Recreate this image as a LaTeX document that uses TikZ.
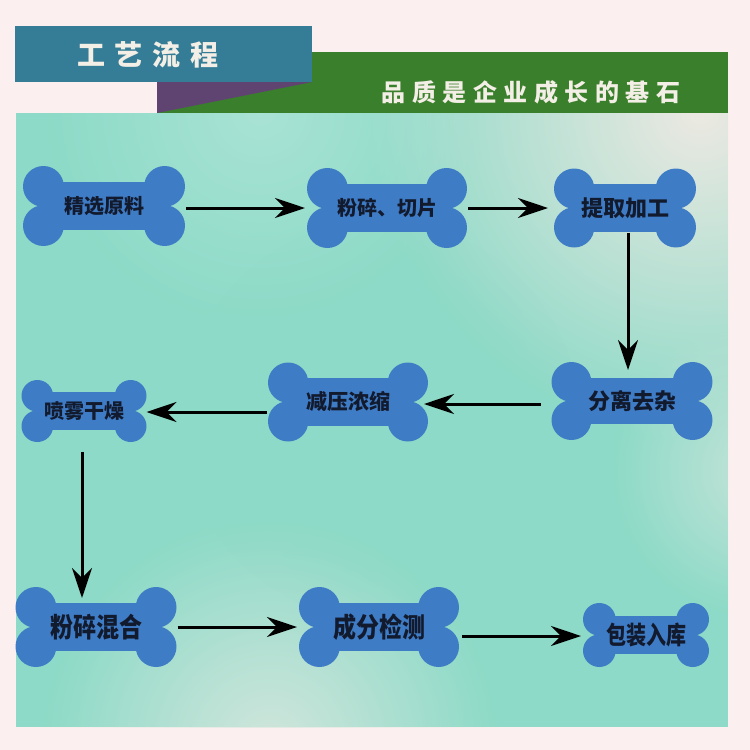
\documentclass[tikz,border=0pt]{standalone}
\usepackage{fontspec}
\usepackage{graphicx}
\newfontfamily\cjk{Noto Sans CJK SC}
\usetikzlibrary{arrows.meta,calc,fadings}
\definecolor{pagebg}{HTML}{FCEFEF}
\definecolor{bannerblue}{HTML}{357D96}
\definecolor{bannergreen}{HTML}{3A7F2B}
\definecolor{bannerpurple}{HTML}{5F4472}
\definecolor{bonecol}{HTML}{3F7CC6}
\definecolor{textcol}{HTML}{121A2E}
\definecolor{titlecol}{HTML}{F3EFE6}
\definecolor{panelbase}{HTML}{8CDAC7}
\definecolor{glowA}{HTML}{F2EAE4}
\definecolor{glowB}{HTML}{DDE8E0}
\tikzfading[name=softglow, inner color=transparent!0, outer color=transparent!100]
\newcommand\gapT{\hspace{10pt}}
\newcommand\gapS{\hspace{6.5pt}}
\newcommand\drawbone[6]{%
  \pgfmathsetmacro\bR{0.255*#5}%
  \pgfmathsetmacro\bO{0.245*#5}%
  \pgfmathsetmacro\bX{#4/2-\bR}%
  \pgfmathsetmacro\bB{0.30*#5}%
  \fill[bonecol] (#2-\bX,#3-\bB) rectangle (#2+\bX,#3+\bB);
  \fill[bonecol] (#2-\bX,#3-\bO) circle (\bR);
  \fill[bonecol] (#2-\bX,#3+\bO) circle (\bR);
  \fill[bonecol] (#2+\bX,#3-\bO) circle (\bR);
  \fill[bonecol] (#2+\bX,#3+\bO) circle (\bR);
  \node[bonebox, minimum width=#4pt, minimum height=#5pt] (#1) at (#2,#3) {#6};
}
\tikzset{
  bonebox/.style={draw=none, inner sep=0pt, outer sep=0pt, text=textcol,
    font=\cjk\bfseries\fontsize{20}{20}\selectfont},
  arr/.style={draw=black, line width=3pt,
    -{Stealth[length=30pt, width=20pt, inset=10pt]}},
  titletext/.style={text=titlecol, inner sep=0pt, font=\cjk\bfseries\fontsize{28}{28}\selectfont},
  subtext/.style={text=titlecol, inner sep=0pt, font=\cjk\bfseries\fontsize{24}{24}\selectfont},
  glow/.style={path fading=softglow}
}
\begin{document}
\begin{tikzpicture}[x=1pt,y=-1pt]
\useasboundingbox (0,0) rectangle (750,750);
\fill[pagebg] (0,0) rectangle (750,750);
% main panel
\begin{scope}
  \clip (16,113) rectangle (728,727);
  \fill[panelbase] (16,113) rectangle (728,727);
  \fill[glowA, glow, opacity=0.95] (700,110) circle (330);
  \fill[glowB, glow, opacity=0.85] (270,745) circle (230);
  \fill[glowB, glow, opacity=0.7] (760,470) circle (150);
  \fill[white, glow, opacity=0.25] (260,110) circle (220);
  \fill[panelbase, glow, opacity=0.5] (380,420) circle (200);
\end{scope}
% header banners
\fill[bannergreen] (157,52) rectangle (728,113);
\fill[bannerblue] (15,26) rectangle (312,82);
\fill[bannerpurple] (157,82) -- (312,82) -- (157,113) -- cycle;
\node[titletext] (title) at (148,55) {工\gapT 艺\gapT 流\gapT 程};
\node[subtext] (subtitle) at (531,92) {品\gapS 质\gapS 是\gapS 企\gapS 业\gapS 成\gapS 长\gapS 的\gapS 基\gapS 石};
% bones
\drawbone{b1}{104}{206}{162}{80}{精选原料}
\drawbone{b2}{387}{208}{160}{80}{粉碎、切片}
\drawbone{b3}{625}{208}{142}{79}{\fontsize{22}{22}\selectfont 提取加工}
\drawbone{b4}{632}{401}{161}{78}{\fontsize{22}{22}\selectfont 分离去杂}
\drawbone{b5}{348}{402}{160}{79}{\fontsize{21}{21}\selectfont 减压浓缩}
\drawbone{b6}{84}{411}{125}{62}{\raisebox{-4pt}{喷雾干燥}}
\drawbone{b7}{96}{627}{161}{80}{\scalebox{1}[1.18]{\fontsize{23}{23}\selectfont 粉碎混合}}
\drawbone{b8}{379}{627}{160}{80}{\raisebox{-3pt}{\scalebox{1}[1.18]{\fontsize{23}{23}\selectfont 成分检测}}}
\drawbone{b9}{646}{635}{126}{64}{\raisebox{-3pt}{\scalebox{1}[1.25]{\fontsize{20}{20}\selectfont 包装入库}}}
% connectors
\draw[arr] ($(b1.east)+(1,2)$) -- ($(b2.west)+(-2,0)$);
\draw[arr] ($(b2.east)+(1,0)$) -- ($(b3.west)+(-6,0)$);
\draw[arr] ($(b3.south)+(3,-15)$) -- ($(b4.north)+(-4,8)$);
\draw[arr] ($(b4.west)+(-11,3)$) -- ($(b5.east |- b4.west)+(-4,3)$);
\draw[arr] ($(b5.west)+(-1,10)$) -- ($(b6.east)+(0,1)$);
\draw[arr] ($(b6.south)+(-2,10)$) -- ($(b7.north)+(-14,11)$);
\draw[arr] ($(b7.east)+(1,0)$) -- ($(b8.west)+(-2,0)$);
\draw[arr] ($(b8.east |- b9.west)+(3,1)$) -- ($(b9.west)+(-2,1)$);
\end{tikzpicture}
\end{document}
